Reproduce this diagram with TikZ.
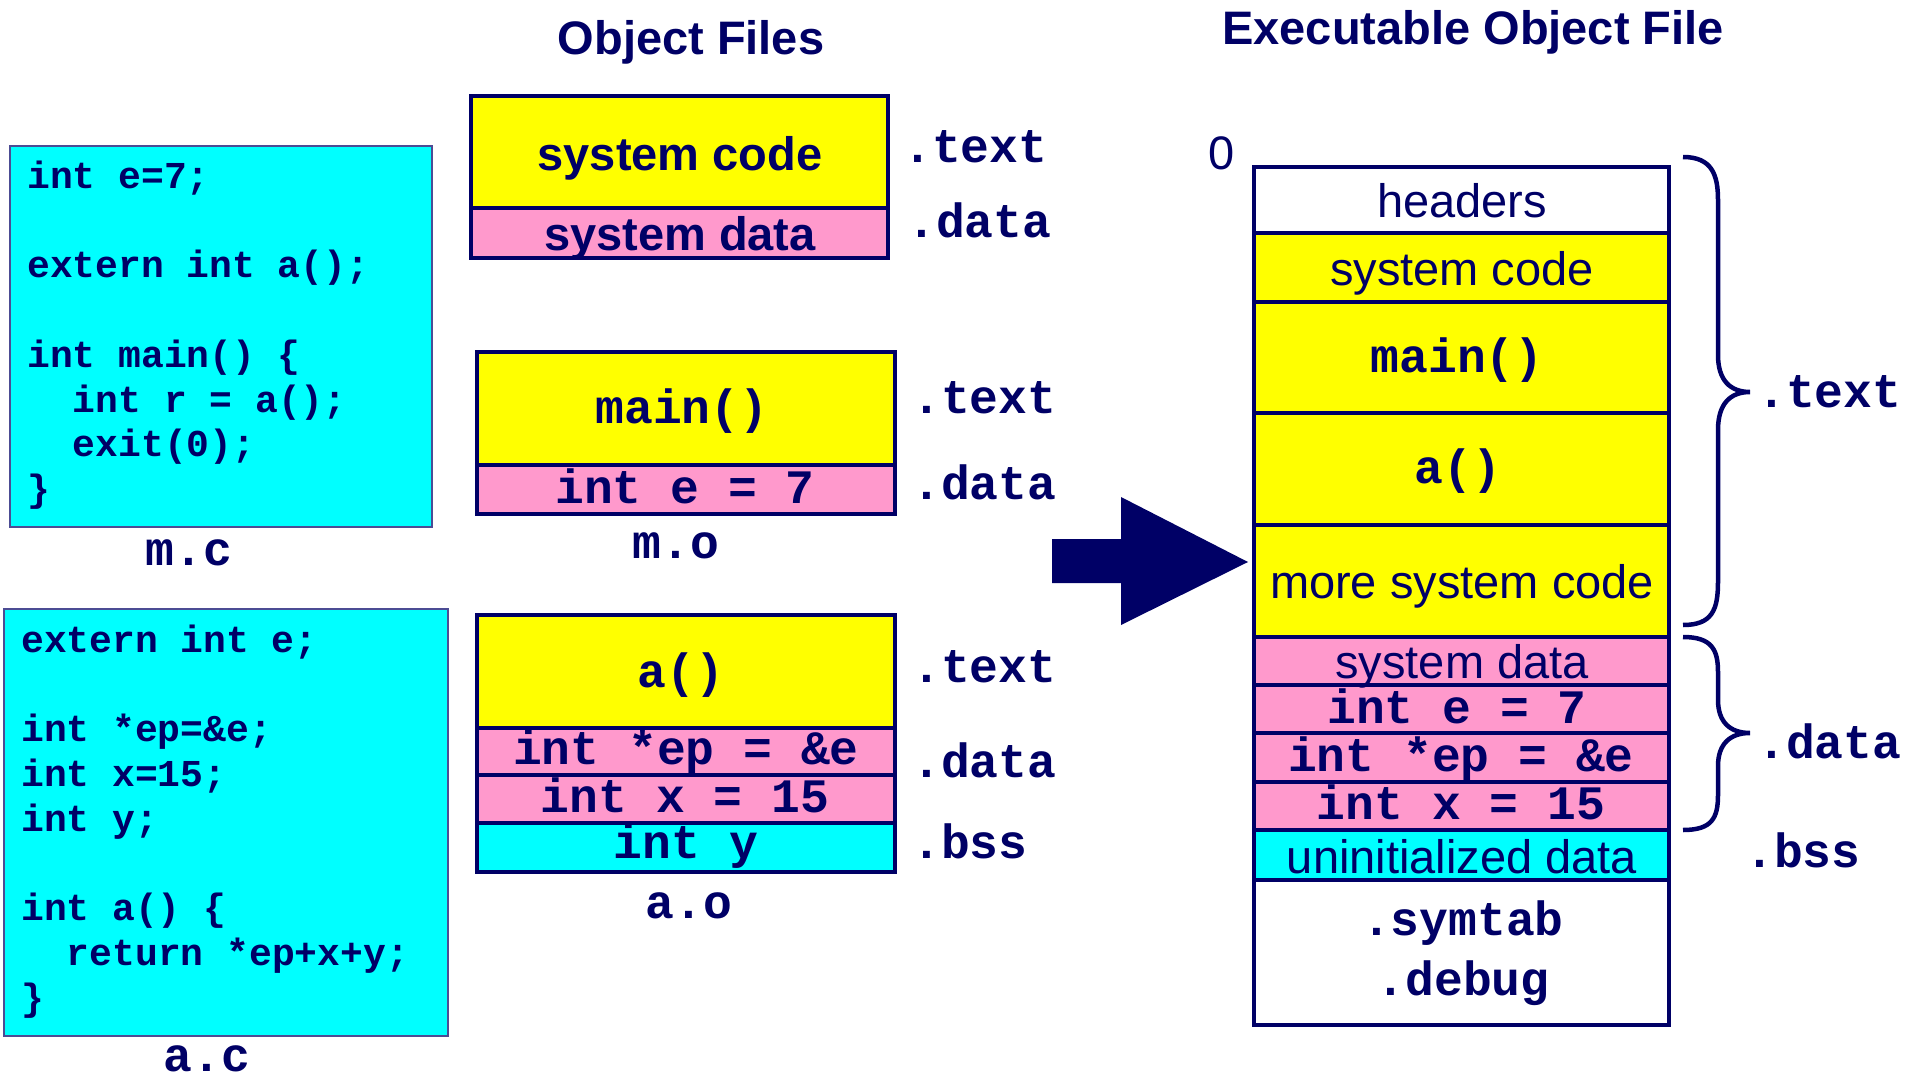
\documentclass[tikz,border=0pt]{standalone}
\usepackage{fontspec}
\setmainfont{Liberation Sans}
\setmonofont{Liberation Mono}

\definecolor{navy}{HTML}{000066}
\definecolor{segyellow}{HTML}{FFFF00}
\definecolor{segpink}{HTML}{FF99CC}
\definecolor{segcyan}{HTML}{00FFFF}

\tikzset{
  seg/.style={draw=navy, line width=4.5pt},
  srcbox/.style={draw=navy!70, line width=1.5pt, fill=segcyan},
  srccode/.style={font=\fontsize{38}{44.8}\selectfont\ttfamily\bfseries, text=navy, align=left, inner sep=0pt, anchor=north west},
  lbl/.style={font=\fontsize{48}{48}\selectfont\ttfamily\bfseries, text=navy, inner sep=0pt, anchor=base},
  seclbl/.style={lbl, anchor=base west},
  sans/.style={font=\fontsize{47}{47}\selectfont, text=navy, inner sep=0pt, anchor=base},
  sansbold/.style={sans, font=\fontsize{47}{47}\selectfont\bfseries},
}

\begin{document}
\begin{tikzpicture}[x=1pt,y=-1pt]
\useasboundingbox (0,0) rectangle (1907,1081);

% titles
\node[sansbold] (objtitle) at (691,55) {Object Files};
\node[sansbold] (exetitle) at (1473,45) {Executable Object File};

% source files
\draw[srcbox] (10,146) rectangle (432,527);
\node[srccode] (mcode) at (27,156.6) {\strut int e=7;\\ \mbox{}\\ extern int a();\\ \mbox{}\\ int main() \{\\ \phantom{xx}int r = a();\\ \phantom{xx}exit(0);\\ \}};
\node[lbl] (mc) at (189,565) {m.c};

\draw[srcbox] (4,609) rectangle (448,1036);
\node[srccode] (acode) at (21,620.6) {\strut extern int e;\\ \mbox{}\\ int *ep=\&e;\\ int x=15;\\ int y;\\ \mbox{}\\ int a() \{\\ \phantom{xx}return *ep+x+y;\\ \}};
\node[lbl] (ac) at (207,1071) {a.c};

% system object
\draw[seg, fill=segyellow] (471,96) rectangle (888,208);
\draw[seg, fill=segpink] (471,208) rectangle (888,258);
\node[sansbold] (syscode) at (680,170) {system code};
\node[sansbold] (sysdata) at (680,250) {system data};
\node[seclbl] (systext) at (903,162) {.text};
\node[seclbl] (sysdatasec) at (907,237) {.data};

% m.o
\draw[seg, fill=segyellow] (477,352) rectangle (895,465);
\draw[seg, fill=segpink] (477,465) rectangle (895,514);
\node[lbl] (momain) at (682,423) {main()};
\node[lbl] (moe) at (685,503) {int e = 7};
\node[seclbl] (motext) at (912,413) {.text};
\node[seclbl] (modata) at (912,499) {.data};
\node[lbl] (mo) at (676,558) {m.o};

% a.o
\draw[seg, fill=segyellow] (477,615) rectangle (895,728);
\draw[seg, fill=segpink] (477,728) rectangle (895,775);
\draw[seg, fill=segpink] (477,775) rectangle (895,823);
\draw[seg, fill=segcyan] (477,823) rectangle (895,872);
\node[lbl] (aoa) at (681,687) {a()};
\node[lbl] (aoep) at (686,764) {int *ep = \&e};
\node[lbl] (aox) at (685,812) {int x = 15};
\node[lbl] (aoy) at (686,858) {int y};
\node[seclbl] (aotext) at (912,682) {.text};
\node[seclbl] (aodata) at (912,777) {.data};
\node[seclbl] (aobss) at (912,858) {.bss};
\node[lbl] (ao) at (689,918) {a.o};

% link arrow
\fill[navy] (1052,539) -- (1121,539) -- (1121,497) -- (1248,562) -- (1121,625) -- (1121,583) -- (1052,583) -- cycle;

% executable
\node[sans] (zero) at (1222,169) {0};
\draw[seg, fill=white] (1254,167) rectangle (1669,233);
\draw[seg, fill=segyellow] (1254,233) rectangle (1669,302);
\draw[seg, fill=segyellow] (1254,302) rectangle (1669,413);
\draw[seg, fill=segyellow] (1254,413) rectangle (1669,525);
\draw[seg, fill=segyellow] (1254,525) rectangle (1669,637);
\draw[seg, fill=segpink] (1254,637) rectangle (1669,685);
\draw[seg, fill=segpink] (1254,685) rectangle (1669,733);
\draw[seg, fill=segpink] (1254,733) rectangle (1669,782);
\draw[seg, fill=segpink] (1254,782) rectangle (1669,830);
\draw[seg, fill=segcyan] (1254,830) rectangle (1669,880);
\draw[seg, fill=white] (1254,880) rectangle (1669,1025);
\node[sans] (hdr) at (1462,217) {headers};
\node[sans] (exsys) at (1462,285) {system code};
\node[lbl] (exmain) at (1457,372) {main()};
\node[lbl] (exa) at (1458,483) {a()};
\node[sans] (exmore) at (1462,598) {more system code};
\node[sans] (exsysdata) at (1462,678) {system data};
\node[lbl] (exe) at (1457,723) {int e = 7};
\node[lbl] (exep) at (1461,771) {int *ep = \&e};
\node[lbl] (exx) at (1461,819) {int x = 15};
\node[sans] (exbss) at (1462,873) {uninitialized data};
\node[lbl] (symtab) at (1463,935) {.symtab};
\node[lbl] (debug) at (1463,995) {.debug};

% braces
\draw[navy, line width=4.5pt] (1683,157) .. controls (1712,157) and (1718,175) .. (1718,200) -- (1718,355) .. controls (1718,380) and (1730,392) .. (1750,392) .. controls (1730,392) and (1718,404) .. (1718,430) -- (1718,582) .. controls (1718,610) and (1712,625) .. (1683,625);
\draw[navy, line width=4.5pt] (1683,637) .. controls (1712,637) and (1718,650) .. (1718,672) -- (1718,700) .. controls (1718,722) and (1730,733) .. (1750,733) .. controls (1730,733) and (1718,744) .. (1718,766) -- (1718,795) .. controls (1718,818) and (1712,830) .. (1683,830);
\node[seclbl] (extext) at (1757,407) {.text};
\node[seclbl] (exdata) at (1757,758) {.data};
\node[seclbl] (exbsssec) at (1745,867) {.bss};
\end{tikzpicture}
\end{document}
